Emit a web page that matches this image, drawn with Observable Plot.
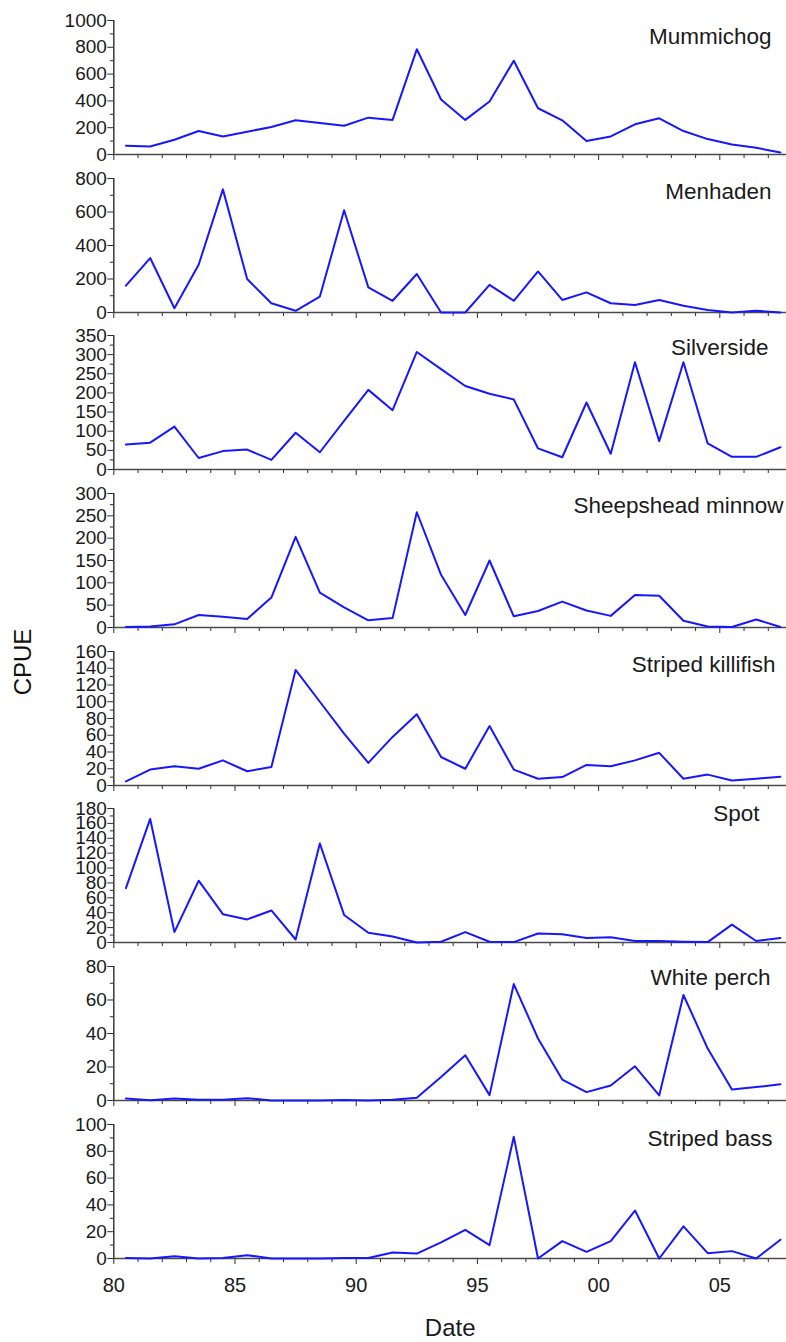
<!DOCTYPE html>
<html>
<head>
<meta charset="utf-8">
<script src="https://cdn.jsdelivr.net/npm/d3@7"></script>
<script src="https://cdn.jsdelivr.net/npm/@observablehq/plot@0.6"></script>
<style>
  body { margin: 0; background: #fff; font-family: "Liberation Sans", Arial, sans-serif; }
  #wrap { position: relative; width: 786px; height: 1342px; overflow: hidden; }
  #charts svg { display: block; }
  #ylab {
    position: absolute; left: 23px; top: 662px;
    transform: translate(-50%, -50%) rotate(-90deg);
    font-size: 24px; color: #111; white-space: nowrap;
  }
</style>
</head>
<body>
<div id="wrap">
  <div id="charts"></div>
  <div id="ylab">CPUE</div>
</div>
<script>
// Sampling dates (mid-year), 1980–2007
const years = [1980.5, 1981.5, 1982.5, 1983.5, 1984.5, 1985.5, 1986.5, 1987.5, 1988.5, 1989.5,
               1990.5, 1991.5, 1992.5, 1993.5, 1994.5, 1995.5, 1996.5, 1997.5, 1998.5, 1999.5,
               2000.5, 2001.5, 2002.5, 2003.5, 2004.5, 2005.5, 2006.5, 2007.5];

// CPUE by species
const mummichog   = [65, 60, 110, 175, 135, 170, 205, 255, 235, 215, 275, 258, 785, 410, 258, 395, 700, 345, 255, 100, 135, 225, 270, 175, 115, 75, 50, 15];
const menhaden    = [160, 325, 25, 285, 735, 200, 55, 10, 95, 610, 150, 70, 230, 0, 0, 165, 70, 245, 75, 120, 55, 45, 75, 40, 15, 0, 10, 0];
const silverside  = [65, 70, 112, 30, 48, 52, 25, 96, 45, 127, 208, 155, 307, 262, 218, 198, 183, 55, 32, 175, 41, 280, 74, 280, 68, 33, 33, 58];
const sheepshead  = [1, 2, 7, 28, 24, 19, 67, 203, 78, 45, 16, 21, 258, 118, 28, 150, 25, 37, 58, 38, 26, 73, 71, 15, 2, 1, 18, 1];
const killifish   = [5, 19, 23, 20, 30, 17, 22, 138, 100, 62, 27, 58, 85, 34, 20, 71, 19, 8, 10, 24.5, 23, 30, 39, 8, 13, 6, 8, 10.5];
const spot        = [73, 166, 14, 83, 38, 31, 43, 4, 133, 37, 13, 8, 0, 1, 14, 1, 0.5, 12, 11, 6, 7, 2, 2, 1, 0.5, 24, 2, 6];
const whitePerch  = [1.2, 0.2, 1.2, 0.4, 0.4, 1.4, 0, 0, 0, 0.3, 0, 0.4, 1.6, 14, 27, 3.2, 69.5, 37, 12.5, 5, 9, 20.4, 3, 63, 31, 6.5, 8, 9.7];
const stripedBass = [0.3, 0, 1.7, 0, 0.3, 2.5, 0, 0, 0, 0.3, 0.3, 4.5, 3.7, 12, 21.4, 10, 90.8, 0, 13, 5, 13, 35.8, 0, 24, 4, 5.5, 0, 14];

const names   = ["Mummichog", "Menhaden", "Silverside", "Sheepshead minnow", "Striped killifish", "Spot", "White perch", "Striped bass"];
const series  = [mummichog, menhaden, silverside, sheepshead, killifish, spot, whitePerch, stripedBass];
const yMaxes  = [1000, 800, 350, 300, 160, 180, 80, 100];
const yMajor  = [200, 200, 50, 50, 20, 20, 20, 20];

// Axis ticks
const xMajor = [1980, 1985, 1990, 1995, 2000, 2005];
const xMinor = d3.range(1981, 2008).filter(y => y % 5 !== 0);
const xLabels = ["80", "85", "90", "95", "00", "05"];

// Layout of the stacked panels
const FONT = "'Liberation Sans', Arial, sans-serif";
const BLUE = "#1717ff";
const AXIS = "#2a2a2a";
const PANEL = 157.7;   // vertical pitch of each panel
const INNER = 134;     // plotting height of each panel
const TOP = 20;
const labelDx = [-15, -15, -18, -3, -11, -27, -16, -14];
const labelDy = [16, 13, 12, 12, 13, 5, 11, 14];

const charts = document.getElementById("charts");

names.forEach((name, k) => {
  const last = k === names.length - 1;
  const height = last ? 1342 - PANEL * k : PANEL;
  const data = years.map((x, i) => ({date: x, cpue: series[k][i]}));
  const major = d3.range(0, yMaxes[k] + 1e-9, yMajor[k]);
  const minor = d3.range(yMajor[k] / 2, yMaxes[k], yMajor[k]);

  const chart = Plot.plot({
    width: 786,
    height,
    marginLeft: 113.3,
    marginRight: 0,
    marginTop: TOP,
    marginBottom: height - TOP - INNER,
    x: {domain: [1980, 2007.75], label: null},
    y: {domain: [0, yMaxes[k]], label: null},
    style: {fontFamily: FONT, fontSize: "19px", color: "#1a1a1a", background: "transparent", overflow: "visible"},
    marks: [
      Plot.axisY(major, {tickSize: 6, tickPadding: 1, fontSize: 19, label: null, stroke: AXIS,
        tickFormat: d => String(d)}),
      Plot.axisY(minor, {tickSize: 3.5, tickFormat: () => "", label: null, stroke: AXIS}),
      Plot.axisX(xMajor, {tickSize: 6, tickPadding: 13, fontSize: 20, label: null, stroke: AXIS,
        tickFormat: last ? (d => xLabels[xMajor.indexOf(d)]) : () => ""}),
      Plot.axisX(xMinor, {tickSize: 4, tickFormat: () => "", label: null, stroke: AXIS}),
      Plot.ruleX([1980], {stroke: AXIS, strokeWidth: 1.4}),
      Plot.ruleY([0], {stroke: "#4a4a4a", strokeWidth: 1.6}),
      Plot.line(data, {x: "date", y: "cpue", stroke: BLUE, strokeWidth: 2}),
      Plot.text([name], {frameAnchor: "top-right", textAnchor: "end", lineAnchor: "middle",
        dx: labelDx[k], dy: labelDy[k], fontSize: 22.5, fill: "#1a1a1a"}),
      last ? Plot.text(["Date"], {frameAnchor: "bottom", lineAnchor: "middle", dy: 70, fontSize: 24, fill: "#1a1a1a"}) : null
    ]
  });
  charts.appendChild(chart);
});
</script>
</body>
</html>
